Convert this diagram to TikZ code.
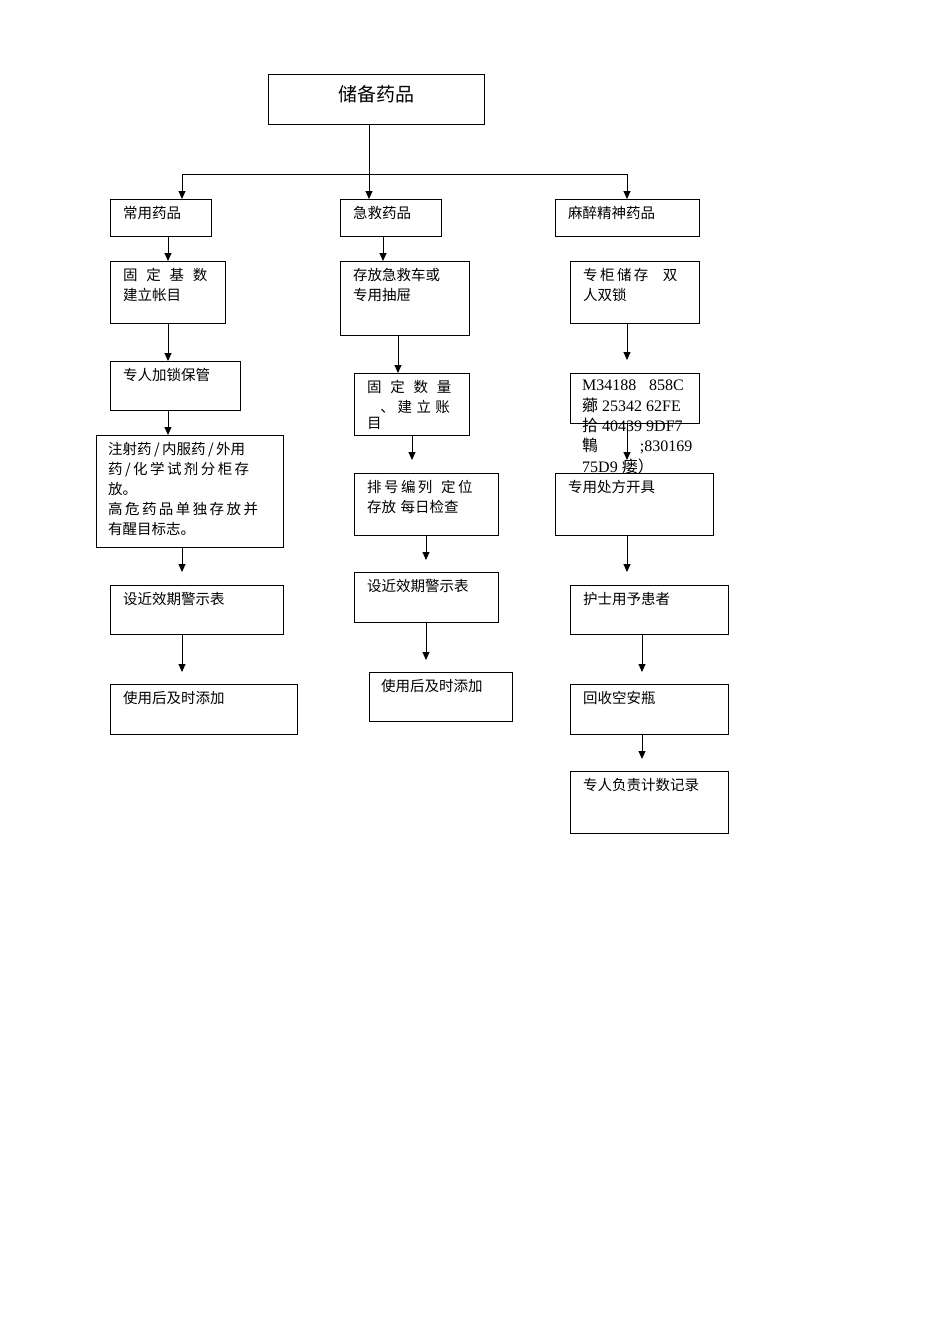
\documentclass[tikz,border=0pt]{standalone}
\usepackage{fontspec}
\setmainfont{Liberation Serif}
\newfontfamily\cjk{Noto Sans CJK SC}
\usetikzlibrary{arrows.meta}
\begin{document}
\begin{tikzpicture}[x=1pt,y=-1pt,
  bx/.style={draw,line width=0.9pt,fill=white},
  tx/.style={anchor=north west,inner sep=0pt,align=left,font=\cjk\fontsize{14.5pt}{20pt}\selectfont},
  arr/.style={-{Triangle[length=8pt,width=7pt]},line width=0.9pt}]
\useasboundingbox (0,0) rectangle (950,1344);
% title
\draw[bx] (268,74) rectangle (484,124);
\node[font=\cjk\fontsize{19pt}{22pt}\selectfont] (t) at (376,94) {储备药品};
\coordinate (tb) at (369,124);
\draw[line width=0.9pt] (tb) -- (369,174);
\draw[line width=0.9pt] (182,174) -- (627,174);
\draw[arr] (182,174) -- (182,199);
\draw[arr] (369,174) -- (369,199);
\draw[arr] (627,174) -- (627,199);
% col1
\draw[bx] (110,199) rectangle (211,236); \node[tx] (a1) at (123,206) {常用药品};
\draw[bx] (110,261) rectangle (225,323); \node[tx] (a2) at (123,268) {固\hspace{0.6em}定\hspace{0.6em}基\hspace{0.6em}数\\建立帐目};
\draw[bx] (110,361) rectangle (240,410); \node[tx] (a3) at (123,368) {专人加锁保管};
\draw[bx] (96,435) rectangle (283,547); \node[tx] (a4) at (108,442) {注射药\,/\,内服药\,/\,外用\\药\,/\,化\,学\,试\,剂\,分\,柜\,存\\放。\\高\,危\,药\,品\,单\,独\,存\,放\,并\\有醒目标志。};
\draw[bx] (110,585) rectangle (283,634); \node[tx] (a5) at (123,592) {设近效期警示表};
\draw[bx] (110,684) rectangle (297,734); \node[tx] (a6) at (123,691) {使用后及时添加};
\draw[arr] (168,236) -- (168,261);
\draw[arr] (168,323) -- (168,361);
\draw[arr] (168,410) -- (168,435);
\draw[arr] (182,547) -- (182,572);
\draw[arr] (182,634) -- (182,672);
% col2
\draw[bx] (340,199) rectangle (441,236); \node[tx] (b1) at (353,206) {急救药品};
\draw[bx] (340,261) rectangle (469,335); \node[tx] (b2) at (353,268) {存放急救车或\\专用抽屉};
\draw[bx] (354,373) rectangle (469,435); \node[tx] (b3) at (367,380) {固\hspace{0.6em}定\hspace{0.6em}数\hspace{0.6em}量\\\hspace{0.9em}、\hspace{0.2em}建\hspace{0.3em}立\hspace{0.3em}账\\[-4pt]目};
\draw[bx] (354,473) rectangle (498,535); \node[tx] (b4) at (367,480) {排\,号\,编\,列\hspace{0.6em}定\,位\\存放\hspace{0.3em}每日检查};
\draw[bx] (354,572) rectangle (498,622); \node[tx] (b5) at (367,579) {设近效期警示表};
\draw[bx] (369,672) rectangle (512,721); \node[tx] (b6) at (381,679) {使用后及时添加};
\draw[arr] (383,236) -- (383,261);
\draw[arr] (398,335) -- (398,373);
\draw[arr] (412,435) -- (412,460);
\draw[arr] (426,535) -- (426,560);
\draw[arr] (426,622) -- (426,660);
% col3
\draw[bx] (555,199) rectangle (699,236); \node[tx] (c1) at (568,206) {麻醉精神药品};
\draw[bx] (570,261) rectangle (699,323); \node[tx] (c2) at (583,268) {专\,柜\,储\,存\hspace{1em}双\\人双锁};
\draw[bx] (570,373) rectangle (699,423);
\node[tx,font=\fontsize{16pt}{20.3pt}\selectfont] (c3) at (582,380) {M34188\hspace{0.8em}858C\\{\cjk 薌} 25342 62FE\\{\cjk 拾} 40439 9DF7\\{\cjk 鶽}\hspace{2.6em};830169\\75D9 {\cjk 瘘）}};
\draw[arr] (627,323) -- (627,360);
\draw[arr] (627,423) -- (627,460);
\draw[bx] (555,473) rectangle (713,535); \node[tx] (c4) at (568,480) {专用处方开具};
\draw[bx] (570,585) rectangle (728,634); \node[tx] (c5) at (583,592) {护士用予患者};
\draw[bx] (570,684) rectangle (728,734); \node[tx] (c6) at (583,691) {回收空安瓶};
\draw[bx] (570,771) rectangle (728,833); \node[tx] (c7) at (583,778) {专人负责计数记录};
\draw[arr] (627,535) -- (627,572);
\draw[arr] (642,634) -- (642,672);
\draw[arr] (642,734) -- (642,759);
\end{tikzpicture}
\end{document}
